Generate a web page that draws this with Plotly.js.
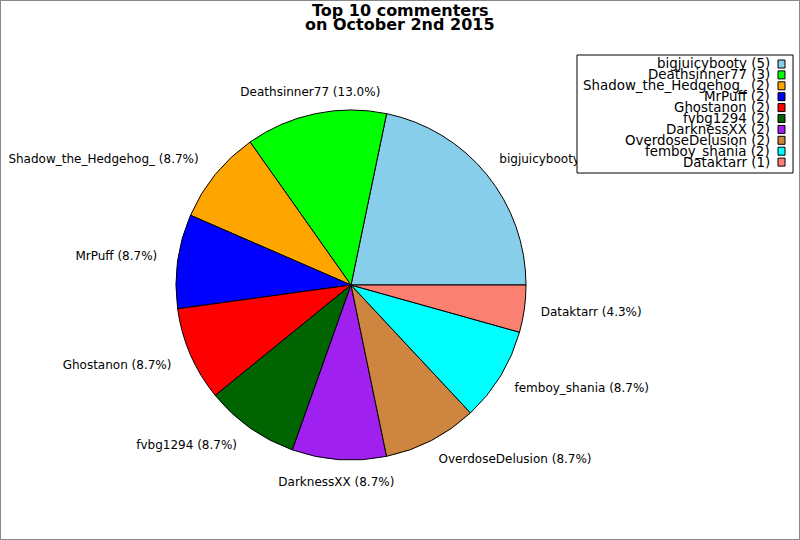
<!DOCTYPE html>
<html><head><meta charset="utf-8">
<script src="https://cdn.plot.ly/plotly-3.0.1.min.js"></script>
<style>
html,body{margin:0;padding:0;background:#fff;}
#wrap{position:relative;width:800px;height:540px;}
#chart{width:800px;height:540px;}
#frame{position:absolute;left:0;top:0;width:800px;height:540px;box-sizing:border-box;border:1px solid #888;pointer-events:none;}
</style></head>
<body>
<div id="wrap"><div id="chart"></div><div id="frame"></div></div>
<script>
const names = ["bigjuicybooty","Deathsinner77","Shadow_the_Hedgehog_","MrPuff","Ghostanon","fvbg1294","DarknessXX","OverdoseDelusion","femboy_shania","Dataktarr"];
const counts = [5,3,2,2,2,2,2,2,2,1];
const colors = ["#87CEEB","#00FF00","#FFA500","#0000FF","#FF0000","#006400","#A020F0","#CD853F","#00FFFF","#FA8072"];
const titleLines = ["Top 10 commenters","on October 2nd 2015"];

const W = 800, H = 540;
const CX = 351, CY = 285, R = 175, LABEL_DIST = 1.1;
const px = x => x / W, py = y => 1 - y / H;

const total = counts.reduce((a, b) => a + b, 0);
const firstFrac = counts[0] / total;

// pie: starts at 3 o'clock, counterclockwise
const pie = {
  type: "pie",
  labels: names,
  values: counts,
  sort: false,
  direction: "counterclockwise",
  rotation: 90 - firstFrac * 360,
  marker: {colors: colors, line: {color: "#000", width: 1}},
  textinfo: "none",
  hoverinfo: "none",
  showlegend: false,
  automargin: false,
  domain: {x: [px(CX - R), px(CX + R)], y: [py(CY + R), py(CY - R)]}
};

// outside labels at 1.1 radius, computed from the values
const lx = [], ly = [], lt = [], lp = [];
let acc = 0;
counts.forEach((c, i) => {
  const mid = (acc + c / 2) / total * 2 * Math.PI;
  acc += c;
  const cx = Math.cos(mid), sy = Math.sin(mid);
  let x = CX + LABEL_DIST * R * cx;
  let y = CY - LABEL_DIST * R * sy;
  let pos;
  if (Math.abs(cx) < 0.3) {
    pos = sy > 0 ? "top center" : "bottom center";
    x -= 1.5;
    y += sy > 0 ? 2 : 0;
  } else {
    pos = (cx > 0 ? "middle right" : "middle left");
    x += cx > 0 ? -1 : -3;
    y -= 4 * Math.sign(sy) * Math.min(1, Math.abs(sy) / 0.35);
  }
  lx.push(x); ly.push(y); lp.push(pos);
  lt.push(names[i] + " (" + (c / total * 100).toFixed(1) + "%)");
});
const labelTrace = {
  type: "scatter", mode: "text", x: lx, y: ly, text: lt, textposition: lp,
  textfont: {family: "DejaVu Sans", size: 12, color: "#000"},
  hoverinfo: "none", showlegend: false, cliponaxis: false
};

// legend drawn manually (text right-aligned, swatch on the right)
const annotations = [];
const shapes = [];
shapes.push({type:"rect", xref:"paper", yref:"paper", x0:px(577), x1:px(793), y0:py(173), y1:py(55),
  line:{color:"#000", width:1}, fillcolor:"#fff", layer:"above"});
names.forEach((n, i) => {
  const yc = 64 + i * 10.9;
  annotations.push({xref:"paper", yref:"paper", x:px(771.5), y:py(yc), xanchor:"right", yanchor:"middle",
    text: n + " (" + counts[i] + ")", showarrow:false, font:{family:"DejaVu Sans", size:13.4, color:"#000"}});
  shapes.push({type:"rect", xref:"paper", yref:"paper", x0:px(778), x1:px(785), y0:py(yc+4), y1:py(yc-4),
    fillcolor: colors[i], line:{color:"#000", width:1}, layer:"above"});
});
titleLines.forEach((s, i) => {
  annotations.push({xref:"paper", yref:"paper", x:px(400), y:py(10.5 + i * 14), xanchor:"center", yanchor:"middle",
    text: "<b>" + s + "</b>", showarrow:false, font:{family:"DejaVu Sans", size:16, color:"#000"}});
});

const layout = {
  width: W, height: H,
  margin: {l:0, r:0, t:0, b:0},
  paper_bgcolor: "#fff", plot_bgcolor: "rgba(0,0,0,0)",
  showlegend: false,
  xaxis: {range: [0, W], visible: false, fixedrange: true},
  yaxis: {range: [H, 0], visible: false, fixedrange: true},
  annotations: annotations,
  shapes: shapes
};
Plotly.newPlot("chart", [pie, labelTrace], layout, {displayModeBar:false, staticPlot:true});
</script>
</body></html>
